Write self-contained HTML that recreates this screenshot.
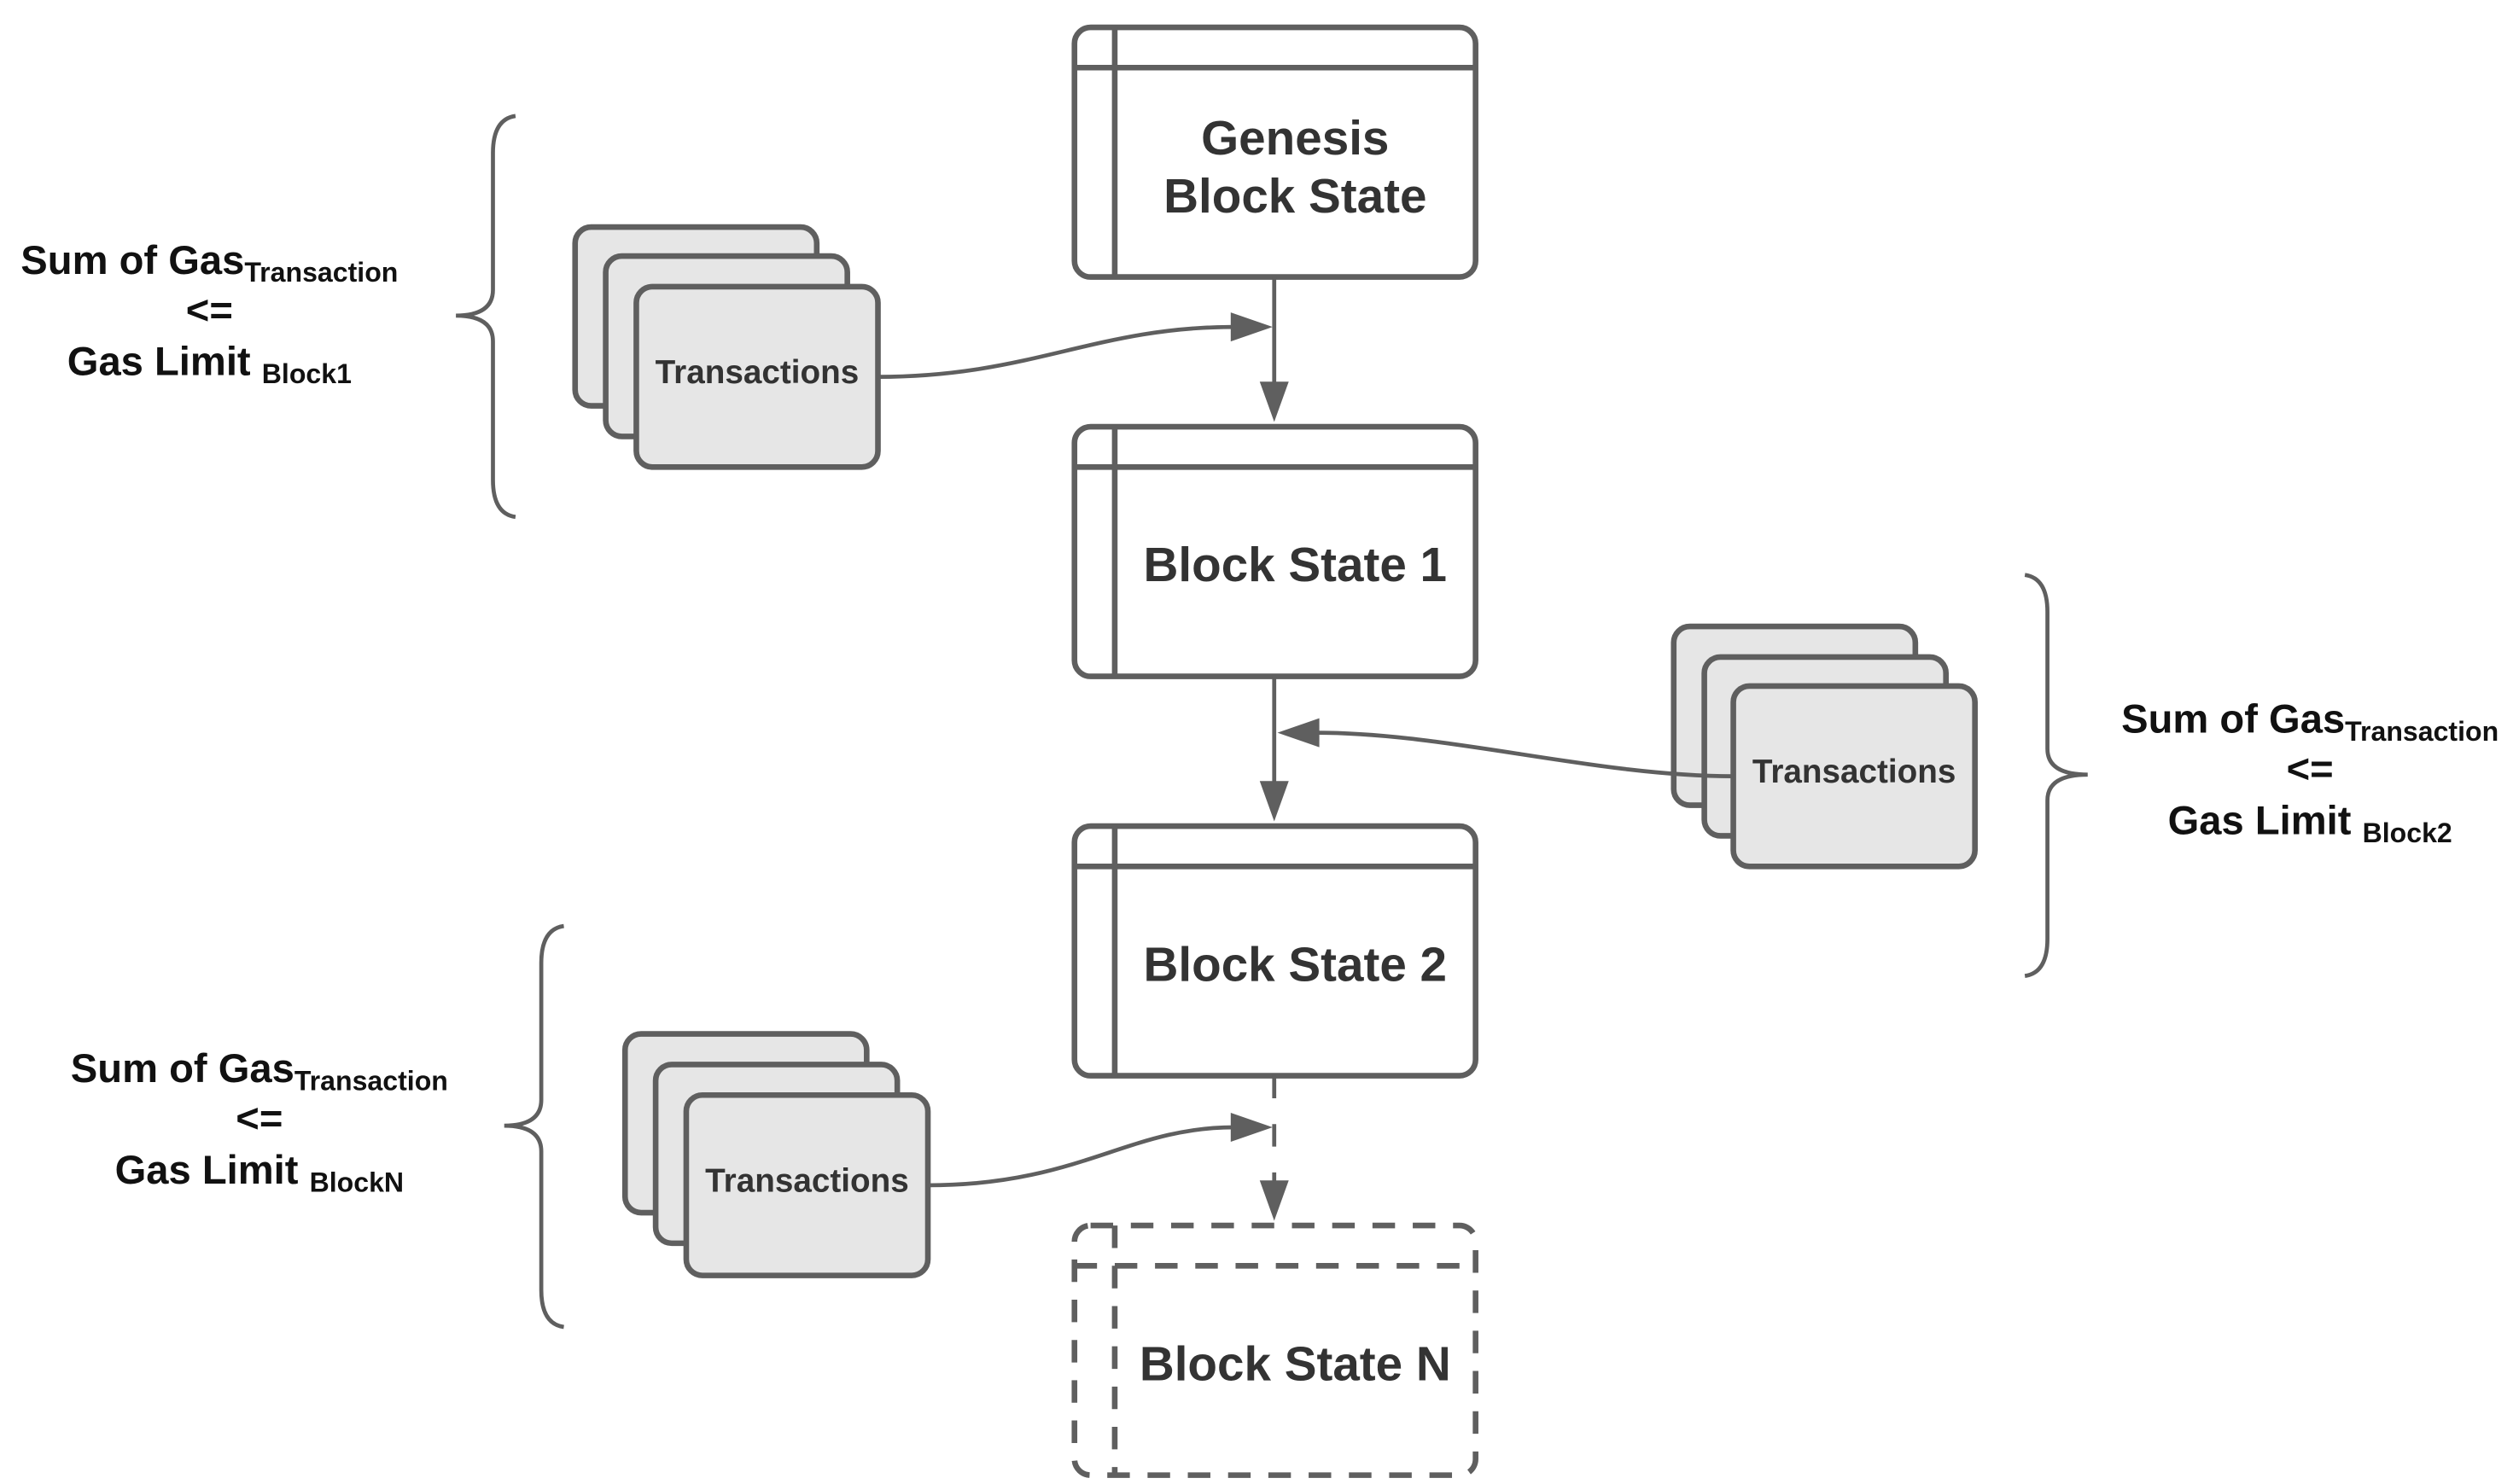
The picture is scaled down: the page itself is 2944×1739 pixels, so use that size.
<!DOCTYPE html>
<html><head><meta charset="utf-8"><style>
html,body{margin:0;padding:0;background:#fff;}
svg{display:block}
.b{fill:#fff;stroke:#5f5f5f;stroke-width:3.5}
.l{stroke:#5f5f5f;stroke-width:3.5;fill:none}
.t{fill:#e6e6e6;stroke:#5f5f5f;stroke-width:3.5}
.c{stroke:#5f5f5f;stroke-width:2.5;fill:none}
.h{fill:#5f5f5f}
.bt{font-family:"Liberation Sans",sans-serif;font-weight:bold;fill:#333;font-size:30px;text-anchor:middle}
.tt{font-family:"Liberation Sans",sans-serif;font-weight:bold;fill:#333;font-size:20.5px;text-anchor:middle}
.g{font-family:"Liberation Sans",sans-serif;font-weight:bold;fill:#111;font-size:25px;text-anchor:middle}
.d{stroke-dasharray:14 11}
</style></head><body>
<svg width="2944" height="1739" viewBox="0 0 1560 921.5" xmlns="http://www.w3.org/2000/svg">
<rect class="b" x="667" y="17" width="249" height="155" rx="10"/>
<line class="l" x1="667" y1="42" x2="916" y2="42"/><line class="l" x1="692" y1="17" x2="692" y2="172"/>
<text class="bt" x="804" y="96">Genesis</text><text class="bt" x="804" y="132">Block State</text>
<rect class="b" x="667" y="265" width="249" height="155" rx="10"/>
<line class="l" x1="667" y1="290" x2="916" y2="290"/><line class="l" x1="692" y1="265" x2="692" y2="420"/>
<text class="bt" x="804" y="361">Block State 1</text>
<rect class="b" x="667" y="513" width="249" height="155" rx="10"/>
<line class="l" x1="667" y1="538" x2="916" y2="538"/><line class="l" x1="692" y1="513" x2="692" y2="668"/>
<text class="bt" x="804" y="609">Block State 2</text>
<rect class="b d" x="667" y="761" width="249" height="155" rx="10"/>
<line class="l d" x1="667" y1="786" x2="916" y2="786"/><line class="l d" x1="692" y1="761" x2="692" y2="916"/>
<text class="bt" x="804" y="857">Block State N</text>
<line class="c" x1="791" y1="172" x2="791" y2="240"/><polygon class="h" points="782,237 800,237 791,262"/>
<line class="c" x1="791" y1="420" x2="791" y2="488"/><polygon class="h" points="782,485 800,485 791,510"/>
<line class="c" x1="791" y1="668" x2="791" y2="736" stroke-dasharray="14 16"/><polygon class="h" points="782,733 800,733 791,758"/>
<rect class="t" x="357" y="141" width="150" height="111" rx="10"/>
<rect class="t" x="376" y="159" width="150" height="112" rx="10"/>
<rect class="t" x="395" y="178" width="150" height="112" rx="10"/>
<text class="tt" x="470" y="238">Transactions</text>
<path class="c" d="M545 234 C640 234 680 203 766 203"/><polygon class="h" points="764,194 764,212 790,203"/>
<rect class="t" x="1039" y="389" width="150" height="111" rx="10"/>
<rect class="t" x="1058" y="408" width="150" height="111" rx="10"/>
<rect class="t" x="1076" y="426" width="150" height="112" rx="10"/>
<text class="tt" x="1151" y="486">Transactions</text>
<path class="c" d="M1076 482 C990 482 900 455 817 455"/><polygon class="h" points="819,446 819,464 793,455"/>
<rect class="t" x="388" y="642" width="150" height="111" rx="10"/>
<rect class="t" x="407" y="661" width="150" height="111" rx="10"/>
<rect class="t" x="426" y="680" width="150" height="112" rx="10"/>
<text class="tt" x="501" y="740">Transactions</text>
<path class="c" d="M576 736 C670 736 700 700 766 700"/><polygon class="h" points="764,691 764,709 790,700"/>
<path class="c" stroke-width="3" d="M320 72 Q306 74 306 95 L306 180 Q306 196 283 196 Q306 196 306 212 L306 298 Q306 319 320 321"/>
<path class="c" stroke-width="3" d="M350 575 Q336 577 336 598 L336 683 Q336 699 313 699 Q336 699 336 715 L336 801 Q336 822 350 824"/>
<path class="c" stroke-width="3" d="M1257 357 Q1271 359 1271 380 L1271 465 Q1271 481 1296 481 Q1271 481 1271 497 L1271 583 Q1271 604 1257 606"/>
<text class="g" x="130" y="170"><tspan>Sum of Gas</tspan><tspan font-size="17" dy="5">Transaction</tspan></text>
<text class="g" x="130" y="201">&lt;=</text>
<text class="g" x="130" y="233"><tspan>Gas Limit </tspan><tspan font-size="17" dy="5">Block1</tspan></text>
<text class="g" x="1434" y="455"><tspan>Sum of Gas</tspan><tspan font-size="17" dy="5">Transaction</tspan></text>
<text class="g" x="1434" y="486">&lt;=</text>
<text class="g" x="1434" y="518"><tspan>Gas Limit </tspan><tspan font-size="17" dy="5">Block2</tspan></text>
<text class="g" x="161" y="672"><tspan>Sum of Gas</tspan><tspan font-size="17" dy="5">Transaction</tspan></text>
<text class="g" x="161" y="703">&lt;=</text>
<text class="g" x="161" y="735"><tspan>Gas Limit </tspan><tspan font-size="17" dy="5">BlockN</tspan></text>
</svg>
</body></html>
